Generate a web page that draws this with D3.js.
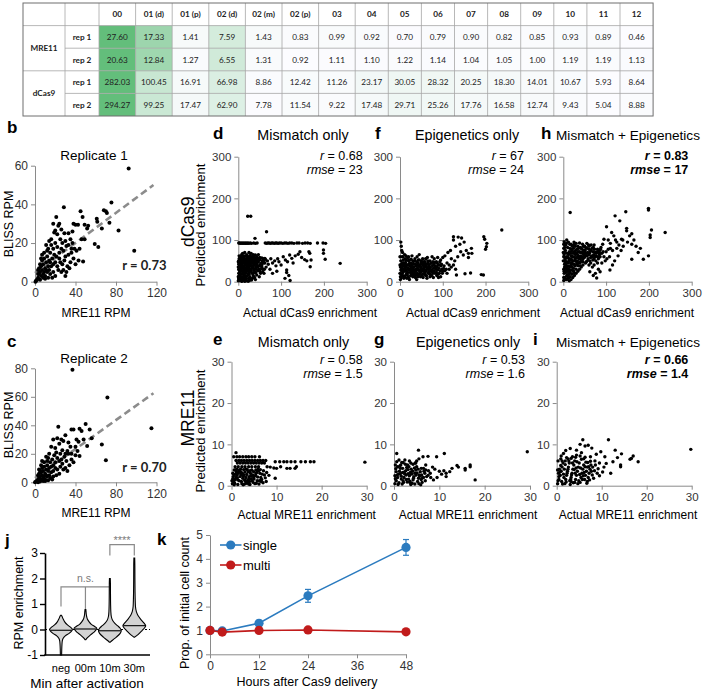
<!DOCTYPE html>
<html><head><meta charset="utf-8">
<script src="https://cdn.jsdelivr.net/npm/d3@7"></script>
<style>body{margin:0;background:#fff}svg{display:block}</style>
</head><body>
<script>
// ---------------- DATA ----------------
const tableCols = ["00","01 (d)","01 (p)","02 (d)","02 (m)","02 (p)","03","04","05","06","07","08","09","10","11","12"];
const tableGroups = ["MRE11","dCas9"];
const tableReps = ["rep 1","rep 2"];
const mre11Rep1 = [27.60,17.33,1.41,7.59,1.43,0.83,0.99,0.92,0.70,0.79,0.90,0.82,0.85,0.93,0.89,0.46];
const mre11Rep2 = [20.63,12.84,1.27,6.55,1.31,0.92,1.11,1.10,1.22,1.14,1.04,1.05,1.00,1.19,1.19,1.13];
const dcas9Rep1 = [282.03,100.45,16.91,66.98,8.86,12.42,11.26,23.17,30.05,28.32,20.25,18.30,14.01,10.67,5.93,8.64];
const dcas9Rep2 = [294.27,99.25,17.47,62.90,7.78,11.54,9.22,17.48,29.71,25.26,17.76,16.58,12.74,9.43,5.04,8.88];

const rep1Points = [[92.5,58.5],[98,16],[82.5,26.5],[75.5,41],[68,37],[70,36.5],[71,35.5],[73.5,30.5],[66,27.5],[61,32.5],[61.5,31],[59,19.5],[62.5,18],[51.5,27.5],[52.5,29],[47,33.5],[49,29.5],[45,36.5],[38,30],[40,29.5],[42.5,29.5],[46,22],[49,22],[44,17],[47.5,10.5],[28.5,38.5],[21,33.5],[23,29],[18,30],[20,26.5],[22,24.5],[19,25.5],[25,22],[27,20],[30,21],[31,18.5],[33,19],[35,22],[37,20],[39,17],[41,16],[36,15],[33,14],[30,13],[28,16],[26,17],[24,15],[22,18],[20,20],[18,17],[16,19],[15,15],[13,17],[12,13],[14,11],[11,10],[9,12],[8,9],[10,7],[7,6],[6,8],[5,5],[4,4],[3,2],[2,1],[1,0.5],[0.5,0],[6,3],[8,4],[10,3],[12,5],[14,6],[16,8],[18,9],[20,10],[22,8],[25,10],[27,9],[29,11],[32,8],[35,10],[38,12],[24,12],[21,13],[19,14],[17,12],[15,10],[13,8],[11,6],[9,5],[7,11],[5,9],[4,7],[3,6],[6,12],[9,15],[12,16],[15,4],[18,5],[20,3],[23,6],[26,5],[17,2],[13,2],[10,1.5],[8,2],[5,1],[3,4],[28,6],[31,5],[34,7],[40,9],[43,11],[36,17],[29,25],[26,27],[24,30],[33,25],[37,26],[16,22],[14,21],[11,19],[30,3],[7,14]];
const rep1Fit = [[0,4.5],[117,50]];
const rep2Points = [[37,79],[71.5,59.5],[115,38],[70,15.5],[66,26.5],[50,41],[51.5,25.5],[54,37],[56,31],[44,37.5],[46,36],[36,37],[38,37],[23,39],[22,31],[26,30],[28,29],[30,33],[33,28],[35,25],[41,30],[43,28.5],[40,19],[44,18.5],[27,22.5],[24,27],[18,30],[16,25],[20,24],[25,20],[29,18],[31,15],[33,20],[36,16],[38,14],[34,12],[30,10],[27,13],[24,15],[22,17],[19,19],[17,16],[15,14],[13,17],[12,12],[14,10],[11,9],[9,11],[8,8],[10,6],[7,5],[6,7],[5,4],[4,3],[3,2],[2,1],[1,0.5],[0,0],[6,2],[8,3],[10,2],[12,4],[14,5],[16,7],[18,8],[20,10],[22,9],[25,11],[28,9],[32,8],[20,14],[18,12],[16,11],[13,8],[11,5],[9,4],[7,10],[5,8],[4,6],[3,5],[6,12],[9,14],[12,15],[15,3],[18,4],[21,5],[24,6],[17,2],[13,1.5],[10,1],[8,1],[5,0.5],[3,0],[30,20],[32,22],[21,21],[26,16],[36,20],[40,25],[42,22],[48,30],[14,20],[11,18],[7,15],[4,9]];
const rep2Fit = [[0,3],[117,62.5]];

const dMismatch = [[1,93],[3,93],[5,92],[7,93],[9,92],[11,93],[13,92],[15,93],[17,92],[19,93],[21,92],[23,93],[25,92],[28,93],[31,92],[36,93],[40,92],[44,93],[63,93],[66,92],[69,93],[72,93],[75,92],[78,93],[81,93],[84,92],[87,93],[90,93],[93,92],[96,93],[100,93],[104,92],[108,93],[112,93],[116,92],[120,93],[125,93],[130,92],[137,93],[142,93],[150,92],[156,93],[162,93],[168,92],[185,93],[198,93],[204,92],[22,157],[29,157],[39,104],[66,120],[238,44],[0,2],[1,5],[2,10],[3,15],[4,20],[5,25],[6,30],[7,35],[8,40],[9,45],[10,50],[2,55],[5,60],[8,65],[12,62],[15,55],[18,50],[20,45],[22,40],[25,35],[28,30],[30,25],[32,20],[35,15],[38,10],[40,5],[3,3],[6,8],[9,12],[12,18],[14,22],[16,28],[18,33],[20,38],[24,42],[26,48],[28,52],[30,56],[33,60],[35,65],[38,55],[40,50],[42,45],[44,40],[46,35],[48,30],[50,25],[52,20],[45,55],[48,56],[50,52],[55,57],[58,55],[60,50],[3,40],[5,45],[7,50],[10,55],[13,45],[16,40],[19,30],[22,25],[25,18],[27,12],[29,8],[31,4],[14,6],[11,3],[8,1],[17,10],[21,14],[24,8],[33,33],[36,40],[39,30],[41,22],[43,60],[47,65],[30,68],[25,70],[20,65],[15,70],[10,68],[1,30],[2,45],[4,52],[6,18],[1,20],[2,28],[0,12],[37,45],[34,48],[31,38],[27,44],[55,40],[58,30],[60,20],[62,45],[65,35],[68,50],[70,42],[74,30],[76,55],[80,45],[85,50],[88,38],[92,55],[95,48],[100,40],[105,60],[110,52],[113,28],[113,22],[109,8],[115,48],[120,64],[125,56],[128,45],[133,62],[140,66],[144,72],[148,58],[155,53],[160,50],[165,72],[167,68],[168,36],[170,52],[199,76],[199,68],[203,54],[118,15],[121,3],[90,25],[80,20],
 [1,8],[2,14],[3,22],[4,33],[5,38],[6,43],[7,48],[8,53],[9,58],[11,38],[12,27],[13,33],[14,15],[15,48],[16,62],[17,20],[18,44],[19,7],[20,56],[21,31],[22,49],[23,18],[24,60],[26,37],[27,5],[28,43],[29,27],[31,51],[32,33],[34,9],[35,45],[36,28],[37,58],[39,41],[41,35],[43,16],[44,52],[46,27],[47,47],[49,12],[51,38],[53,44],[54,31],[56,50],[57,24],[59,45],[61,30],[63,54],[1,50],[2,62],[3,47],[4,58],[6,54],[7,26],[9,33],[10,20],[11,47],[13,57],[14,38],[16,14],[17,52],[19,41],[21,60],[23,35],[25,52],[26,24],[28,63],[30,44],[33,38],[34,56],[37,22],[40,64],[42,30],[45,48],[50,58],[52,41],[55,35],[58,48],[62,56],[3,29],[5,18],[8,26],[10,38],[12,51],[15,29],[18,23],[20,31],[22,54],[24,28],[27,57],[29,47],[32,52],[35,35],[38,50],[41,55],[44,46],[47,38],[1,42],[0,35],[0,48],[2,36],[4,12],[6,3],[9,2],[12,9],[15,1],[18,2],[23,1],[26,3]];
const fEpigenetics = [[238,124],[196,108],[198,102],[203,92],[202,84],[200,78],[195,16],[190,17],[165,21],[152,19],[132,16],[167,80],[168,68],[160,68],[148,64],[125,108],[125,100],[136,107],[144,105],[150,95],[140,90],[130,85],[118,75],[112,70],[105,62],[100,58],[95,52],[120,55],[128,50],[135,60],[142,72],[155,75],[160,58],[2,95],[3,85],[4,75],[110,45],[115,40],[90,40],[98,30],[85,48],[80,55],[75,60],[70,50],[65,45],[60,55],[55,40],[50,50],[45,65],[40,60],[35,55],[30,50],[25,45],[20,40],[15,35],[10,30],[5,25],[0,20],[2,50],[5,60],[8,45],[12,55],[18,58],[22,52],[28,62],[32,42],[38,38],[42,45],[48,35],[52,30],[58,28],[62,35],[68,30],[72,25],[78,32],[82,38],[88,28],[92,20],[100,25],[108,30],[1,5],[3,10],[6,15],[9,8],[12,12],[15,18],[18,22],[21,28],[24,30],[27,25],[30,20],[33,15],[36,10],[39,5],[42,12],[45,18],[48,22],[51,16],[54,10],[57,20],[60,15],[63,8],[66,20],[70,12],[74,15],[78,10],[82,20],[86,15],[90,10],[95,12],[1,35],[2,40],[4,30],[7,38],[10,42],[13,25],[16,8],[19,12],[22,5],[25,15],[28,35],[31,30],[34,25],[37,30],[40,20],[43,28],[46,40],[49,45],[53,55],[56,48],[59,42],[64,58],[68,40],[73,45],[77,48],[84,30],[88,58],[93,48],[97,42],[103,38],[0,60],[6,70],[110,20],[115,30],[120,35],[125,40],[130,30],
 [3,18],[5,33],[7,22],[8,52],[10,14],[11,37],[13,46],[14,28],[16,41],[17,17],[19,33],[20,50],[21,9],[23,38],[24,22],[26,54],[27,40],[29,28],[30,12],[31,44],[33,35],[34,50],[35,20],[36,42],[38,26],[39,48],[41,33],[42,15],[44,38],[45,52],[47,28],[48,12],[50,36],[51,25],[53,42],[54,18],[56,32],[58,48],[59,22],[61,38],[62,14],[64,30],[65,50],[67,24],[69,36],[70,18],[72,44],[74,28],[76,38],[77,20],[79,42],[80,26],[83,35],[85,22],[87,44],[89,18],[91,32],[94,26],[96,38],[99,20],[102,32],[105,26],[6,45],[9,26],[12,34],[15,52],[18,30],[22,44],[25,32],[28,18],[32,26],[37,16],[40,40],[43,52],[46,24],[49,32],[52,46],[55,26],[57,36],[60,26],[63,42],[66,32],[71,34],[75,24],[81,46],[86,36],[92,40],[2,28],[4,42],[1,12],[0,40],[7,60],[11,65],[20,60],[14,62]];
const hCombined = [[16,166],[199,176],[199,172],[203,112],[203,106],[206,124],[238,118],[199,62],[187,54],[160,54],[146,168],[121,158],[132,146],[148,128],[148,122],[101,132],[113,118],[136,102],[139,100],[118,110],[122,100],[125,95],[105,100],[110,92],[95,102],[92,90],[93,72],[86,24],[109,28],[115,40],[120,50],[128,62],[135,75],[140,85],[150,95],[160,90],[165,100],[170,85],[175,70],[180,80],[62,24],[78,9],[70,15],[2,96],[3,90],[1,80],[4,70],[8,100],[12,95],[18,90],[25,95],[30,92],[38,93],[45,90],[50,85],[55,80],[60,78],[65,75],[70,72],[75,70],[80,78],[85,75],[88,82],[72,88],[60,85],[48,75],[40,70],[35,72],[28,65],[22,60],[18,55],[14,50],[10,45],[6,40],[3,35],[1,30],[2,20],[4,10],[6,5],[8,15],[10,25],[12,30],[15,35],[18,40],[20,45],[24,50],[28,55],[32,58],[36,62],[40,55],[44,60],[48,65],[52,68],[56,62],[60,65],[64,58],[68,60],[72,55],[76,50],[80,60],[84,65],[90,68],[95,60],[100,72],[105,78],[110,80],[115,75],[52,45],[56,50],[60,40],[64,45],[68,35],[72,40],[46,40],[42,35],[38,30],[34,25],[30,20],[26,15],[22,10],[18,5],[14,2],[10,8],[12,18],[16,22],[20,28],[24,32],[28,38],[32,42],[36,45],[40,48],[5,55],[8,60],[12,65],[16,70],[20,75],[24,80],[28,85],[32,78],[26,70],[20,62],[40,82],[44,78],[50,72],[55,92],[65,88],[1,3],[3,50],[5,25],[75,20],[82,30],[90,45],[98,50],[102,55],[108,60],[125,80],[130,88],[155,110],[160,115],
 [1,10],[2,25],[3,42],[4,58],[5,75],[6,88],[7,30],[8,48],[9,68],[10,82],[11,15],[12,38],[13,55],[14,72],[15,90],[16,28],[17,45],[18,62],[19,78],[21,35],[22,50],[23,68],[24,88],[25,22],[26,42],[27,58],[29,75],[30,30],[31,48],[33,65],[34,85],[35,38],[37,55],[38,72],[39,45],[41,62],[42,80],[43,50],[45,68],[46,55],[47,85],[49,58],[51,75],[53,62],[54,48],[57,70],[58,55],[59,88],[61,68],[63,72],[66,62],[67,80],[69,52],[71,65],[73,78],[74,60],[77,68],[79,72],[82,55],[83,70],[86,60],[87,78],[2,65],[3,82],[5,48],[7,92],[9,35],[11,58],[13,25],[15,80],[17,68],[19,52],[21,85],[23,42],[25,72],[27,92],[29,50],[31,68],[33,50],[36,80],[38,60],[40,38],[44,70],[46,48],[50,60],[52,82],[55,68],[62,50],[70,82],[76,62],[80,45],[85,68],[6,22],[8,5],[12,8],[16,12],[20,18],[24,25],[0,50],[1,60],[1,90],[0,70]];
const eMismatch = [[0.5,7],[1.2,7],[1.8,7],[2.5,7],[3.2,7],[3.8,7],[4.5,7],[5.2,7],[6.2,7],[1,8],[1,6.1],[1.6,6.1],[2.2,6.1],[2.8,6.1],[3.4,6.1],[4,6.1],[4.6,6.1],[5.2,6.1],[5.8,6.1],[6.4,6.1],[7,6.1],[7.6,6.1],[1.3,5.5],[1.9,5.5],[2.5,5.5],[3.1,5.5],[3.7,5.5],[4.3,5.5],[4.9,5.5],[5.5,5.5],[6.1,5.5],[6.7,5.5],[7.3,5.5],[9.7,5.8],[10.7,5.8],[11.6,5.8],[12.3,5.8],[13.2,5.8],[14.1,5.8],[15.4,5.8],[16.4,5.8],[17.5,5.8],[18.3,5.8],[29.6,5.7],[0.8,4.6],[1.5,4.6],[2.3,4.6],[3,4.6],[3.8,4.6],[4.5,4.6],[5.3,4.6],[6,4.6],[7.9,4.6],[8.6,4.5],[9.4,4.3],[10,4.2],[10.9,4.6],[12.3,4.2],[13,4.2],[14.1,4.2],[14.4,4.6],[9.7,1.8],[6.6,1],[0.2,0.5],[0.5,1],[0.8,1.5],[1,2],[1.2,2.5],[1.5,3],[1.8,3.5],[2,4],[0.3,3],[0.6,3.8],[2.2,1],[2.5,1.8],[2.8,2.6],[3,3.3],[3.3,0.6],[3.6,1.4],[3.9,2.2],[4.2,3],[4.5,3.8],[4.8,0.8],[5,1.6],[5.3,2.4],[5.6,3.2],[5.9,4],[6.2,1.2],[6.5,2],[6.8,2.8],[7.1,3.6],[1.4,0.3],[2.6,0.2],[3.8,0.4],[4,1],[1.7,1.2],[2.9,1.4],[0.9,2.8],[3.5,3.9],[4.7,2.6],[5.7,1.2],[6,3.6],[7.5,1.9],[7.8,3.2],[0.4,2.2],[1.1,3.3],[2.4,3],[3.2,2],[4.4,1.7],[5.5,0.6],[8.3,2.5],
 [0.3,1.7],[0.7,0.6],[1.3,1.9],[1.6,3.6],[2.1,2.7],[2.3,0.5],[2.7,3.9],[3.1,1.1],[3.4,2.7],[3.7,3.4],[4.1,0.3],[4.3,2.4],[4.6,1.2],[4.9,3.4],[5.2,0.5],[5.4,2.9],[5.8,2.1],[6.1,0.4],[6.3,3],[6.7,1.5],[7,0.7],[7.3,2.6],[7.7,1],[0.5,2.7],[1.9,2.2],[2.9,0.4],[3.6,0.9],[4.9,2.1],[6.4,3.9],[1.2,4],[0.1,1.2],[0.9,3.8],[2.1,3.3],[3.2,4],[1.4,1.4],[2.6,2.3],[0.6,0.2],[4.1,3.6],[5.4,3.8],[3.9,1.7]];
const gEpigenetics = [[29.4,8.2],[17.9,1.4],[16.8,5],[16.8,4.6],[15.7,4.2],[15.7,3.8],[13.9,4.9],[14.2,4.5],[12.8,4.2],[12.3,3.4],[11.5,3],[11.5,2.2],[11,3.6],[10.5,2.8],[10,3.5],[11.1,7.8],[9.4,7],[9,4],[9.5,2],[8.7,1.4],[5.4,8.6],[0.6,7.8],[6.4,7],[7.5,7.1],[5,6],[5.5,6.5],[4.8,5.5],[3.5,0.8],[8,3],[8.5,4.5],[7,5],[6.5,4.2],[7.5,2.5],[6,1.5],[0.2,0.5],[0.5,1.2],[0.8,2],[1,2.8],[1.2,3.5],[1.4,4.2],[0.3,5],[0.6,5.8],[1.8,0.4],[2,1.2],[2.2,2],[2.4,2.8],[2.6,3.6],[2.8,4.4],[3,5],[3.2,1.6],[3.4,2.4],[3.6,3.2],[3.8,4],[4,0.6],[4.2,1.4],[4.4,2.2],[4.6,3],[4.8,3.8],[5,4.6],[5.2,1],[5.4,1.8],[5.6,2.6],[5.8,3.4],[6,4.2],[6.2,0.8],[6.5,2],[6.8,3],[7,3.8],[1.5,5],[2,5.6],[0.9,0.3],[1.6,1.6],[2.9,0.9],[3.9,2.8],[4.5,4.3],[1.1,6.2],[0.4,4.1],[1.9,3.2],[3.1,3.9],[5.1,3.1],[6.1,2.6],
 [0.3,1.7],[0.7,2.6],[1.1,0.7],[1.3,4.8],[1.6,2.3],[1.9,4.2],[2.1,0.8],[2.3,3.3],[2.5,5.2],[2.7,1.5],[3.1,2.9],[3.3,4.6],[3.5,1.1],[3.7,5.5],[4.1,3.5],[4.3,1.8],[4.6,0.4],[4.9,2.6],[5.3,4],[5.5,0.5],[5.7,2.3],[6.3,1.9],[6.6,3.5],[6.9,1.2],[7.2,2.2],[0.5,3.4],[0.8,4.6],[1.7,5.6],[2.4,6.2],[3.4,6],[4.2,5.2],[0.2,2.4],[1.4,2.9],[2.7,2.6],[3.7,0.3],[5.9,0.2],[4.7,5.5],[7.6,3.6],[8.1,2]];
const iCombined = [[29.8,8.8],[11.5,11.1],[5.8,11.1],[5.2,10],[6.3,9.6],[7,9.8],[7.8,9.1],[4.4,8.6],[4.4,7.4],[1.5,7.8],[13,8.6],[14.4,7.7],[10.7,7],[16.3,6.4],[16.6,6.6],[17,7.2],[18.1,5.8],[14.2,5],[14.2,4.6],[10.5,4.5],[11,5.4],[12,3],[9,3],[6.8,1],[3.2,1],[4,0.8],[8.5,6],[9.5,5.5],[8,4.5],[7.5,7],[6,6.5],[5.5,8],[3.5,7],[2.5,6.5],[12.5,5.8],[13.5,6.8],[9.8,8.2],[8.8,7.6],[3,9],[2,8.5],[0.2,0.5],[0.5,1.5],[0.8,2.5],[1,3.5],[1.2,4.5],[1.4,5.5],[0.3,6],[1.8,0.5],[2,1.5],[2.2,2.5],[2.4,3.5],[2.6,4.5],[2.8,5.5],[3,0.3],[3.2,2],[3.4,3],[3.6,4],[3.8,5],[4,6],[4.2,1.5],[4.4,2.5],[4.6,3.5],[4.8,4.5],[5,5.5],[5.2,0.8],[5.4,2],[5.6,3],[5.8,4],[6,5],[6.2,1.5],[6.4,2.5],[6.6,3.5],[6.8,4.5],[7,2],[7.2,3],[7.4,4],[7.6,5],[0.6,4],[1.6,2],[2.9,1.2],[0.9,6.5],[1.9,6],[3.9,3.9],[4.9,1.2],[5.9,2.4],[6.9,5.6],[7.9,2.6],[8.4,3.6],[9.2,4.1],[0.4,3],[1.1,1],
 [0.3,1.2],[0.5,2.2],[0.7,3.3],[0.9,4.9],[1.3,0.4],[1.5,2.8],[1.7,4],[1.9,5.1],[2.1,0.9],[2.3,3],[2.5,4],[2.7,6],[3.1,1.5],[3.3,2.6],[3.5,5.5],[3.7,0.7],[4.1,3],[4.3,4.3],[4.5,5.8],[4.7,0.5],[5.1,2.7],[5.3,4.3],[5.5,6.4],[5.7,1.5],[6.1,3.2],[6.3,4.6],[6.5,5.7],[6.7,0.6],[7.1,4.6],[7.3,1.4],[7.5,5.9],[7.7,3.5],[8.2,1.8],[8.6,5],[9.5,2.4],[10.2,3.3],[0.2,3.8],[1.2,6],[2.2,6.8],[3.2,6.6],[4.2,6.9],[5.2,7.2],[6.3,6.9],[1,7.2]];

const violinGroups = ["neg","00m","10m","30m"];
const violinNeg = [[-1.0,0.02],[-0.8,0.03],[-0.6,0.05],[-0.45,0.08],[-0.35,0.15],[-0.25,0.35],[-0.15,0.7],[-0.05,0.95],[0.0,1.0],[0.08,0.85],[0.18,0.55],[0.3,0.3],[0.42,0.15],[0.52,0.05],[0.56,0]];
const violin00m = [[-0.4,0],[-0.32,0.15],[-0.2,0.45],[-0.1,0.75],[0,0.95],[0.05,1.0],[0.12,0.8],[0.2,0.5],[0.3,0.3],[0.4,0.15],[0.5,0.08],[0.6,0.04],[0.7,0.02],[0.78,0]];
const violin10m = [[-0.5,0],[-0.42,0.2],[-0.3,0.55],[-0.15,0.9],[-0.05,1.0],[0.05,0.9],[0.15,0.65],[0.25,0.4],[0.35,0.22],[0.5,0.1],[0.7,0.05],[1.0,0.03],[1.4,0.02],[1.8,0.015],[2.0,0]];
const violin30m = [[-0.3,0],[-0.2,0.3],[-0.05,0.65],[0.1,0.95],[0.15,1.0],[0.25,0.85],[0.4,0.55],[0.55,0.3],[0.7,0.15],[0.9,0.07],[1.1,0.05],[1.5,0.03],[2.0,0.02],[2.5,0.015],[2.8,0]];
const violinMedians = [-0.03,0.02,-0.05,0.15];

const kHours = [0,3,12,24,48];
const kSingle = [1.0,0.98,1.3,2.45,4.48];
const kSingleErr = [0.03,0.05,0.12,0.27,0.33];
const kMulti = [1.0,0.93,1.0,1.02,0.94];
const kMultiErr = [0.04,0.05,0.05,0.09,0.04];

// ---------------- DRAW ----------------
const SANS = "'Liberation Sans', Arial, sans-serif";
const CAL = "Lato, 'Open Sans', sans-serif";
const svg = d3.select("body").append("svg").attr("width",706).attr("height",690)
  .style("font-family", SANS);

function txt(x,y,s,o={}){
  const t = svg.append("text").attr("x",x).attr("y",y).text(s)
    .attr("font-size",o.size||12).attr("fill",o.fill||"#000")
    .attr("text-anchor",o.anchor||"start");
  if(o.weight) t.attr("font-weight",o.weight);
  if(o.family) t.style("font-family",o.family);
  if(o.rotate) t.attr("transform",`rotate(-90,${x},${y})`);
  return t;
}

// ---- panel a: table ----
(function(){
  const left=23, c1=65, c2=99;
  const widths = tableCols.map((c,i)=> i<7 ? 36.6 : 33.1);
  const edges=[c2]; widths.forEach(w=>edges.push(edges[edges.length-1]+w));
  const top=3, rh=22.6;
  const rows=[mre11Rep1,mre11Rep2,dcas9Rep1,dcas9Rep2];
  const g=svg.append("g").style("font-family",CAL);
  rows.forEach((vals,r)=>{
    const col=d3.scaleLinear().domain([d3.min(vals),d3.max(vals)]).range(["#FCFCFF","#63BE7B"]);
    vals.forEach((v,i)=>{
      g.append("rect").attr("x",edges[i]).attr("y",top+rh*(r+1)).attr("width",widths[i]).attr("height",rh).attr("fill",col(v));
      g.append("text").attr("x",edges[i]+widths[i]/2).attr("y",top+rh*(r+1)+rh/2+3).attr("text-anchor","middle")
        .attr("font-size",8.2).attr("fill","#222").text(v.toFixed(2));
    });
    g.append("text").attr("x",(c1+c2)/2).attr("y",top+rh*(r+1)+rh/2+3).attr("text-anchor","middle")
      .attr("font-size",8.2).attr("font-weight","bold").attr("fill","#222").text(tableReps[r%2]);
  });
  tableCols.forEach((c,i)=>{
    g.append("text").attr("x",edges[i]+widths[i]/2).attr("y",top+rh/2+3).attr("text-anchor","middle")
      .attr("font-size",8.2).attr("font-weight","bold").attr("fill","#222").text(c);
  });
  tableGroups.forEach((gname,k)=>{
    g.append("text").attr("x",(left+c1)/2).attr("y",top+rh*(1+2*k)+rh+3).attr("text-anchor","middle")
      .attr("font-size",8.2).attr("font-weight","bold").attr("fill","#222").text(gname);
  });
  const right=edges[edges.length-1], bottom=top+rh*5;
  for(let r=1;r<5;r++){
    const x0 = (r===2||r===4)? c1 : left;
    g.append("line").attr("x1",x0).attr("x2",right).attr("y1",top+rh*r).attr("y2",top+rh*r).attr("stroke","#a6a6a6").attr("stroke-width",0.8);
  }
  [c1,c2,...edges.slice(1,-1)].forEach(x=>{
    g.append("line").attr("x1",x).attr("x2",x).attr("y1",top).attr("y2",bottom).attr("stroke","#a6a6a6").attr("stroke-width",0.8);
  });
  g.append("rect").attr("x",left).attr("y",top).attr("width",right-left).attr("height",bottom-top)
    .attr("fill","none").attr("stroke","#6e6e6e").attr("stroke-width",1);
})();

// ---- generic scatter panel ----
function styleAxis(sel, color, size){
  sel.select(".domain").attr("stroke",color);
  sel.selectAll(".tick line").attr("stroke",color);
  sel.selectAll(".tick text").attr("fill","#333").attr("font-size",size).style("font-family",SANS);
}
function scatter(o){
  const x=d3.scaleLinear().domain(o.xd).range([o.l,o.r]);
  const y=d3.scaleLinear().domain(o.yd).range([o.b,o.t]);
  svg.append("g").attr("transform",`translate(0,${o.b})`)
    .call(d3.axisBottom(x).tickValues(o.xt).tickFormat(d=>String(d)).tickSize(4).tickSizeOuter(0).tickPadding(3))
    .call(s=>styleAxis(s,"#8a8a8a",o.fs));
  svg.append("g").attr("transform",`translate(${o.l},0)`)
    .call(d3.axisLeft(y).tickValues(o.yt).tickFormat(d=>String(d)).tickSize(4).tickSizeOuter(0).tickPadding(3))
    .call(s=>styleAxis(s,"#8a8a8a",o.fs));
  if(o.fit){
    svg.append("line").attr("x1",x(o.fit[0][0])).attr("y1",y(o.fit[0][1]))
      .attr("x2",x(o.fit[1][0])).attr("y2",y(o.fit[1][1]))
      .attr("stroke","#8c8c8c").attr("stroke-width",2.6).attr("stroke-dasharray","7,4");
  }
  svg.append("g").selectAll("circle").data(o.pts).join("circle")
    .attr("cx",d=>x(d[0])).attr("cy",d=>y(d[1])).attr("r",o.pr).attr("fill","#000");
  return {x,y};
}

// ---- panels b, c ----
scatter({l:35,r:156.5,t:165.7,b:281.7,xd:[0,120],yd:[0,60],xt:[0,40,80,120],yt:[0,20,40,60],pts:rep1Points,pr:2,fs:12,fit:rep1Fit});
scatter({l:35,r:156.5,t:368.3,b:482.3,xd:[0,120],yd:[0,80],xt:[0,40,80,120],yt:[0,20,40,60,80],pts:rep2Points,pr:2,fs:12,fit:rep2Fit});
txt(7,133,"b",{size:17,weight:"bold"});
txt(7,347,"c",{size:17,weight:"bold"});
txt(94,160,"Replicate 1",{size:13.5,anchor:"middle"});
txt(94,363,"Replicate 2",{size:13.5,anchor:"middle"});
txt(96,316.5,"MRE11 RPM",{size:12,anchor:"middle"});
txt(96,516.5,"MRE11 RPM",{size:12,anchor:"middle"});
txt(13,224,"BLISS RPM",{size:12.5,anchor:"middle",rotate:true});
txt(13,425,"BLISS RPM",{size:12.5,anchor:"middle",rotate:true});
txt(166.5,270,"r = 0.73",{size:13,anchor:"end",weight:"bold",family:CAL,fill:"#222"});
txt(166.5,471.5,"r = 0.70",{size:13,anchor:"end",weight:"bold",family:CAL,fill:"#222"});

// ---- panels d-i ----
const dcasPanels=[
  {l:238.3,r:366.7,pts:dMismatch,title:"Mismatch only",tx:303,ts:14.3,lab:"d",lx:213,rr:"0.68",rm:"23",bold:false,rx:362.7,xl:310},
  {l:400,r:528.3,pts:fEpigenetics,title:"Epigenetics only",tx:467,ts:14.3,lab:"f",lx:375,rr:"67",rm:"24",bold:false,rx:524,xl:473},
  {l:563.3,r:691.7,pts:hCombined,title:"Mismatch + Epigenetics",tx:628,ts:13.6,lab:"h",lx:541,rr:"0.83",rm:"17",bold:true,rx:688.3,xl:627}
];
dcasPanels.forEach(p=>{
  scatter({l:p.l,r:p.r,t:156.7,b:281.7,xd:[0,300],yd:[0,300],xt:[0,100,200,300],yt:[0,100,200,300],pts:p.pts,pr:1.7,fs:11.5});
  txt(p.tx,140,p.title,{size:p.ts,anchor:"middle"});
  txt(p.lx,139,p.lab,{size:17,weight:"bold"});
  const t1=txt(p.rx,160,"",{size:12.5,anchor:"end"}); if(p.bold) t1.attr("font-weight","bold");
  t1.append("tspan").attr("font-style","italic").text("r"); t1.append("tspan").text(" = "+p.rr);
  const t2=txt(p.rx,173.5,"",{size:12.5,anchor:"end"}); if(p.bold) t2.attr("font-weight","bold");
  t2.append("tspan").attr("font-style","italic").text("rmse"); t2.append("tspan").text(" = "+p.rm);
  txt(p.xl,317,"Actual dCas9 enrichment",{size:12,anchor:"middle"});
});
const mrePanels=[
  {l:231.5,r:366.7,pts:eMismatch,title:"Mismatch only",tx:303.5,ts:14.3,lab:"e",lx:213,rr:"0.58",rm:"1.5",bold:false,rx:362.7,xl:306.7},
  {l:394,r:530,pts:gEpigenetics,title:"Epigenetics only",tx:468,ts:14.3,lab:"g",lx:374,rr:"0.53",rm:"1.6",bold:false,rx:525,xl:468},
  {l:556.7,r:691.7,pts:iCombined,title:"Mismatch + Epigenetics",tx:628,ts:13.6,lab:"i",lx:533,rr:"0.66",rm:"1.4",bold:true,rx:688.3,xl:628}
];
mrePanels.forEach(p=>{
  scatter({l:p.l,r:p.r,t:361.7,b:485.7,xd:[0,30],yd:[0,30],xt:[0,10,20,30],yt:[0,10,20,30],pts:p.pts,pr:1.7,fs:11.5});
  txt(p.tx,346.5,p.title,{size:p.ts,anchor:"middle"});
  txt(p.lx,345,p.lab,{size:17,weight:"bold"});
  const t1=txt(p.rx,364,"",{size:12.5,anchor:"end"}); if(p.bold) t1.attr("font-weight","bold");
  t1.append("tspan").attr("font-style","italic").text("r"); t1.append("tspan").text(" = "+p.rr);
  const t2=txt(p.rx,377.5,"",{size:12.5,anchor:"end"}); if(p.bold) t2.attr("font-weight","bold");
  t2.append("tspan").attr("font-style","italic").text("rmse"); t2.append("tspan").text(" = "+p.rm);
  txt(p.xl,519,"Actual MRE11 enrichment",{size:12,anchor:"middle"});
});
txt(194,221.7,"dCas9",{size:17.5,anchor:"middle",rotate:true});
txt(205,225,"Predicted enrichment",{size:13,anchor:"middle",rotate:true});
txt(194,418,"MRE11",{size:17.5,anchor:"middle",rotate:true});
txt(205,431,"Predicted enrichment",{size:13,anchor:"middle",rotate:true});

// ---- panel j: violins ----
(function(){
  const x=d3.scalePoint().domain(violinGroups).range([61,134.3]);
  const y=d3.scaleLinear().domain([-1,3]).range([655,553]);
  const w=d3.scaleLinear().domain([0,1]).range([0,11]);
  const sets=[violinNeg,violin00m,violin10m,violin30m];
  const grey="#8a8a8a";
  const yb=y(1.67);
  svg.append("path").attr("d",`M${x("neg")},${y(0.9)}V${yb}H${x("10m")}V${yb+4}`).attr("fill","none").attr("stroke",grey).attr("stroke-width",1.2);
  svg.append("line").attr("x1",x("00m")).attr("x2",x("00m")).attr("y1",yb).attr("y2",y(0.8)).attr("stroke",grey).attr("stroke-width",1.2);
  txt(x("00m"),yb-5,"n.s.",{size:10.5,anchor:"middle",fill:"#7a7a7a"});
  const ys=y(3.33);
  svg.append("path").attr("d",`M${x("10m")},${y(2.9)}V${ys}H${x("30m")}V${y(2.9)}`).attr("fill","none").attr("stroke",grey).attr("stroke-width",1.2);
  txt((x("10m")+x("30m"))/2,ys-1,"****",{size:11,anchor:"middle",fill:"#7a7a7a"});
  svg.append("line").attr("x1",45).attr("x2",150).attr("y1",y(0)).attr("y2",y(0)).attr("stroke","#000").attr("stroke-width",1).attr("stroke-dasharray","2,2");
  sets.forEach((s,i)=>{
    const cx=x(violinGroups[i]);
    const area=d3.area().y(d=>y(d[0])).x0(d=>cx-w(d[1])-0.4).x1(d=>cx+w(d[1])+0.4).curve(d3.curveMonotoneY);
    svg.append("path").attr("d",area(s)).attr("fill","#d3d3d3").attr("stroke","#000").attr("stroke-width",1.1);
    const m=violinMedians[i];
    const dm=d3.scaleLinear().domain(s.map(d=>d[0])).range(s.map(d=>d[1]))(m);
    svg.append("line").attr("x1",cx-w(dm)).attr("x2",cx+w(dm)).attr("y1",y(m)).attr("y2",y(m)).attr("stroke","#000").attr("stroke-width",1.1);
  });
  const ya=svg.append("g").attr("transform","translate(45,0)").call(d3.axisLeft(y).tickValues([-1,0,1,2,3]).tickFormat(d=>String(d)).tickSize(5).tickSizeOuter(0).tickPadding(2));
  ya.select(".domain").attr("stroke","#000").attr("stroke-width",1.6);
  ya.selectAll(".tick line").attr("stroke","#000").attr("stroke-width",1.4);
  ya.selectAll(".tick text").attr("fill","#000").attr("font-size",12).style("font-family",SANS);
  svg.append("line").attr("x1",44.2).attr("x2",150).attr("y1",655).attr("y2",655).attr("stroke","#000").attr("stroke-width",1.6);
  violinGroups.forEach(gn=>txt(x(gn),671.5,gn,{size:11,anchor:"middle"}));
  txt(87,688,"Min after activation",{size:13.5,anchor:"middle"});
  txt(23,603,"RPM enrichment",{size:12.5,anchor:"middle",rotate:true});
  txt(5,546,"j",{size:17,weight:"bold"});
})();

// ---- panel k ----
(function(){
  const x=d3.scaleLinear().domain([0,48]).range([210,406]);
  const y=d3.scaleLinear().domain([0,5]).range([654.3,535]);
  svg.append("g").attr("transform","translate(0,654.3)")
    .call(d3.axisBottom(x).tickValues([0,12,24,36,48]).tickFormat(d=>String(d)).tickSize(4).tickSizeOuter(0).tickPadding(3))
    .call(s=>styleAxis(s,"#8a8a8a",12));
  svg.append("g").attr("transform","translate(210,0)")
    .call(d3.axisLeft(y).tickValues([0,1,2,3,4,5]).tickFormat(d=>String(d)).tickSize(4).tickSizeOuter(0).tickPadding(3))
    .call(s=>styleAxis(s,"#8a8a8a",12));
  const series=[{v:kSingle,e:kSingleErr,c:"#2b7bbf"},{v:kMulti,e:kMultiErr,c:"#c11b1b"}];
  series.forEach(s=>{
    const pts=kHours.map((h,i)=>[h,s.v[i],s.e[i]]);
    svg.append("path").attr("d",d3.line().x(d=>x(d[0])).y(d=>y(d[1]))(pts)).attr("fill","none").attr("stroke",s.c).attr("stroke-width",1.6);
    const g=svg.append("g").attr("stroke",s.c).attr("stroke-width",1.2);
    pts.forEach(d=>{
      g.append("line").attr("x1",x(d[0])).attr("x2",x(d[0])).attr("y1",y(d[1]-d[2])).attr("y2",y(d[1]+d[2]));
      g.append("line").attr("x1",x(d[0])-3).attr("x2",x(d[0])+3).attr("y1",y(d[1]-d[2])).attr("y2",y(d[1]-d[2]));
      g.append("line").attr("x1",x(d[0])-3).attr("x2",x(d[0])+3).attr("y1",y(d[1]+d[2])).attr("y2",y(d[1]+d[2]));
    });
    svg.append("g").selectAll("circle").data(pts).join("circle").attr("cx",d=>x(d[0])).attr("cy",d=>y(d[1])).attr("r",4.6).attr("fill",s.c);
  });
  const leg=[["single",series[0].c,545],["multi",series[1].c,565]];
  leg.forEach(([n,c,yy])=>{
    svg.append("line").attr("x1",220).attr("x2",241.5).attr("y1",yy).attr("y2",yy).attr("stroke",c).attr("stroke-width",1.6);
    svg.append("circle").attr("cx",230.7).attr("cy",yy).attr("r",4.6).attr("fill",c);
    txt(243,yy+4.5,n,{size:13});
  });
  txt(307,686,"Hours after Cas9 delivery",{size:12.5,anchor:"middle"});
  txt(189,603,"Prop. of initial cell count",{size:12.5,anchor:"middle",rotate:true});
  txt(157,545,"k",{size:17,weight:"bold"});
})();
</script>
</body></html>
